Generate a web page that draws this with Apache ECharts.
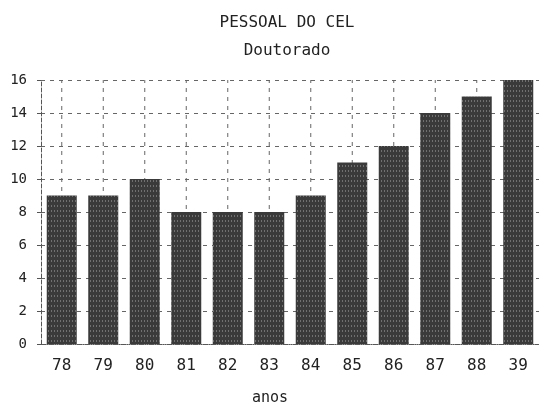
<!DOCTYPE html>
<html>
<head>
<meta charset="utf-8">
<script src="https://cdn.jsdelivr.net/npm/echarts@6/dist/echarts.min.js"></script>
<style>html,body{margin:0;padding:0;background:#fff}#c{width:539px;height:405px}</style>
</head>
<body>
<div id="c"></div>
<script>
const categories = ['78','79','80','81','82','83','84','85','86','87','88','89'];
const tickLabels = ['78','79','80','81','82','83','84','85','86','87','88','39'];
const values = [9, 9, 10, 8, 8, 8, 9, 11, 12, 14, 15, 16];
const yMin = 0, yMax = 16, yStep = 2;

const chart = echarts.init(document.getElementById('c'));
const font = '"DejaVu Sans Mono", "Liberation Mono", monospace';
chart.setOption({
  animation: false,
  backgroundColor: '#fff',
  title: [
    {text: 'PESSOAL DO CEL', left: 282, top: 10, textAlign: 'center',
     textStyle: {fontFamily: font, fontSize: 16, fontWeight: 'normal', color: '#222'}},
    {text: 'Doutorado', left: 282, top: 38, textAlign: 'center',
     textStyle: {fontFamily: font, fontSize: 16, fontWeight: 'normal', color: '#222'}}
  ],
  grid: {left: 41, right: 0, top: 80, bottom: 61, containLabel: false, outerBoundsMode: 'none'},
  xAxis: {
    type: 'category',
    data: categories,
    name: 'anos',
    nameLocation: 'middle',
    nameGap: 47,
    nameTextStyle: {fontFamily: font, fontSize: 15, color: '#222', padding: [0, 40, 0, 0]},
    axisLine: {lineStyle: {color: '#555', type: 'dotted', width: 1}},
    axisTick: {alignWithLabel: true, length: 8, lineStyle: {color: '#555', type: 'dashed'}},
    axisLabel: {fontFamily: font, fontSize: 16, color: '#222', margin: 14,
      formatter: (v, i) => tickLabels[i]},
    splitLine: {show: false}
  },
  yAxis: {
    type: 'value',
    min: yMin, max: yMax, interval: yStep,
    axisLine: {show: true, lineStyle: {color: '#555', type: 'dashed', width: 1}},
    axisTick: {show: true, length: 4, lineStyle: {color: '#555'}},
    axisLabel: {fontFamily: font, fontSize: 14, color: '#222', margin: 14},
    splitLine: {show: true, lineStyle: {color: '#666', type: [4, 5], width: 1}}
  },
  series: [
    {
      type: 'custom',
      z: 1,
      silent: true,
      data: categories.map((c, i) => i),
      renderItem: function (params, api) {
        const i = api.value(0);
        const p0 = api.coord([i, yMin]);
        const p1 = api.coord([i, yMax]);
        return {
          type: 'line',
          shape: {x1: p0[0], y1: p0[1], x2: p1[0], y2: p1[1]},
          style: {stroke: '#666', lineWidth: 1, lineDash: [4, 5]}
        };
      }
    },
    {
      type: 'bar',
      z: 3,
      data: values,
      barWidth: 30,
      itemStyle: {
        color: '#3a3a3a',
        decal: {
          symbol: 'rect',
          color: 'rgba(255,255,255,0.28)',
          dashArrayX: [1, 2],
          dashArrayY: [2, 3],
          symbolSize: 1,
          rotation: 0
        }
      }
    }
  ]
});
</script>
</body>
</html>
